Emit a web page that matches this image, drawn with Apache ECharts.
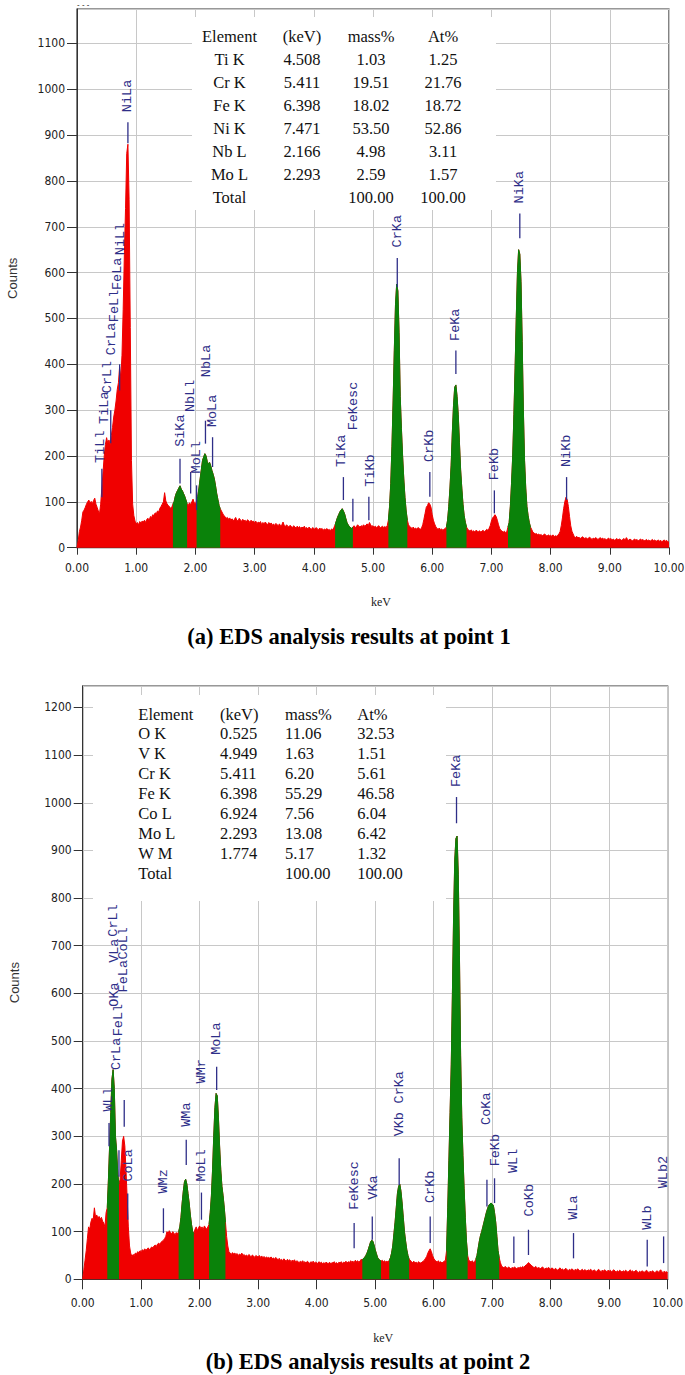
<!DOCTYPE html>
<html><head><meta charset="utf-8">
<script src="https://cdn.jsdelivr.net/npm/echarts@6/dist/echarts.min.js"></script>
<style>html,body{margin:0;padding:0;background:#fff}#c{width:685px;height:1375px}</style>
</head><body><div id="c"></div>
<script>
// ---------- DATA ----------
const STEP = 0.02; // keV per channel
// Spectrum (a), point 1 : counts per channel, 0.00 .. 10.00 keV
const counts1 = [
0,15,35,45,60,78,82,88,95,100,
104,97,101,96,103,108,95,88,80,74,
95,130,165,200,225,240,228,235,225,245,
262,285,300,320,345,360,395,370,420,520,
640,740,860,880,760,480,190,95,70,58,
52,55,50,57,54,58,56,60,55,62,
64,60,68,66,72,70,76,74,80,78,
86,90,95,100,120,102,96,92,90,86,
88,95,100,112,120,125,130,135,128,124,
118,112,104,96,92,98,94,100,106,98,
96,102,112,130,150,170,190,198,205,200,
188,182,186,178,168,160,150,135,118,105,
92,85,80,75,70,68,64,66,62,65,
60,63,58,62,66,60,58,64,61,57,
62,58,60,56,61,59,55,60,57,58,
55,58,52,56,54,57,50,55,52,56,
53,50,55,51,54,49,52,48,53,50,
48,52,47,50,56,49,46,50,47,45,
49,46,44,48,45,43,47,44,46,42,
45,43,47,42,44,41,45,42,40,44,
42,40,44,41,39,43,40,42,38,41,
39,42,38,40,37,41,39,44,50,58,
66,72,78,82,85,80,74,64,55,50,
46,44,42,45,48,44,46,50,47,45,
48,46,50,47,49,52,48,55,50,46,
48,45,47,44,46,48,43,45,47,44,
46,44,48,60,90,140,220,320,430,530,
575,560,470,330,260,200,150,110,80,60,
50,46,44,42,45,41,43,40,44,42,
40,43,50,62,75,88,92,98,95,88,
72,60,52,46,42,40,43,39,41,38,
40,42,45,60,90,130,180,250,310,350,
355,330,290,230,170,130,95,70,55,45,
40,38,36,39,35,37,34,38,36,35,
37,34,36,38,35,37,40,38,42,48,
58,65,68,72,68,60,50,42,38,36,
34,36,33,35,45,55,90,140,200,290,
390,500,600,650,640,580,450,300,190,130,
90,70,55,45,40,34,32,30,31,28,
30,27,29,26,28,30,27,25,28,26,
27,25,28,24,26,25,27,30,35,48,
65,85,100,110,105,90,68,48,36,30,
24,22,25,21,23,20,22,24,21,20,
22,19,21,23,20,18,21,19,22,20,
18,20,22,19,21,18,20,17,19,21,
18,20,17,19,16,18,20,17,19,18,
16,18,20,17,22,18,16,19,17,15,
17,19,16,18,15,17,19,16,18,15,
16,18,15,17,14,16,18,15,17,14,
15,17,14,16,13,15,17,14,16,13,
12];
// Spectrum (b), point 2
const counts2 = [
0,20,40,60,85,110,105,120,128,125,
150,130,135,128,132,126,130,122,118,110,
140,150,210,280,350,420,440,400,300,270,
220,200,210,250,290,300,280,230,170,110,
70,55,48,52,50,55,53,58,56,60,
58,62,60,64,61,63,66,62,65,68,
66,70,72,69,74,76,73,78,80,82,
85,90,100,96,102,98,95,100,96,94,
98,95,100,110,130,160,185,205,210,200,
180,160,135,115,100,96,105,110,102,108,
112,106,110,104,112,108,105,110,115,140,
175,230,300,360,390,385,340,280,230,195,
175,150,120,90,70,58,55,52,56,53,
55,52,54,50,53,51,55,50,52,49,
51,48,52,50,47,51,49,46,50,48,
47,50,46,49,45,48,44,47,45,46,
44,47,43,45,42,46,43,41,44,40,
42,39,43,40,38,42,39,41,37,40,
38,41,36,39,37,35,38,36,39,35,
37,34,38,36,33,37,35,38,34,36,
35,33,37,34,36,32,35,33,36,34,
33,36,32,35,34,37,33,35,32,36,
34,37,33,36,35,38,34,37,35,39,
36,38,35,40,37,39,36,38,42,40,
44,46,50,55,62,70,78,82,80,72,
62,54,46,42,40,38,40,37,39,36,
38,36,40,45,55,70,95,120,150,180,
195,200,185,160,130,100,80,62,50,42,
40,37,35,38,34,36,33,37,35,34,
36,38,40,44,48,55,60,64,58,50,
44,40,38,36,39,35,37,34,36,38,
40,60,150,250,350,450,600,760,880,925,
930,850,680,470,340,260,190,130,80,50,
40,38,36,39,35,37,42,50,65,80,
92,100,110,120,130,140,148,155,158,160,
158,155,140,120,90,60,45,35,28,26,
24,27,25,23,26,24,22,25,23,26,
24,22,25,23,26,24,27,25,28,30,
32,35,33,30,28,26,24,27,25,23,
25,22,24,26,23,21,24,22,25,23,
21,24,22,20,23,21,19,22,24,20,
22,19,21,23,20,18,21,19,22,20,
18,21,19,22,20,17,19,21,18,20,
19,17,20,18,21,19,17,20,18,16,
19,21,18,16,19,17,20,18,16,19,
17,19,16,18,20,17,15,18,16,19,
17,15,18,16,19,17,15,17,20,16,
18,15,17,19,16,14,17,15,18,16,
15,17,19,16,14,17,15,18,16,14,
16,18,15,17,20,16,14,17,15,16,
14];
// Identified peak windows (green), keV
const greenStart1 = [1.62, 2.02, 4.36, 5.26, 6.24, 7.28];
const greenEnd1   = [1.86, 2.42, 4.66, 5.58, 6.58, 7.66];
const greenStart2 = [0.42, 1.64, 2.16, 4.78, 5.24, 6.22, 6.72];
const greenEnd2   = [0.62, 1.90, 2.44, 5.10, 5.58, 6.58, 7.12];
// Peak labels (a)
const peakName1 = ['TiLl','TiLa','CrLl','CrLa','FeLl','FeLa','NiLl','NiLa','SiKa','NbLl','MoLl','NbLa','MoLa','TiKa','FeKesc','TiKb','CrKa','CrKb','FeKa','FeKb','NiKa','NiKb'];
const peakKeV1  = [0.40,0.47,0.51,0.59,0.64,0.69,0.74,0.86,1.74,1.91,2.02,2.19,2.29,4.47,4.67,4.95,5.41,5.96,6.40,7.06,7.48,8.27];
const peakBase1 = [185,270,337,420,492,562,638,950,220,296,162,372,263,176,256,133,655,187,451,147,751,176];
const markKeV1  = [0.42,0.57,0.72,0.86,1.74,1.92,2.02,2.17,2.29,4.50,4.66,4.93,5.41,5.96,6.40,7.05,7.48,8.27];
const markFrom1 = [110,228,343,882,140,118,82,227,176,104,57,60,568,111,379,75,675,104];
const markTo1   = [172,300,400,928,194,165,136,277,241,154,107,111,632,165,430,125,729,154];
// Peak labels (b)
const peakName2 = ['WLl','CrLa','FeLl','OKa','VLa','CrLl','FeLa','CoLl','CoLa','WMz','WMa','WMr','MoLl','MoLa','FeKesc','VKa','VKb','CrKa','CrKb','FeKa','CoKa','FeKb','WLl','CoKb','WLa','WLb','WLb2'];
const peakKeV2  = [0.44,0.58,0.61,0.55,0.55,0.52,0.70,0.70,0.78,1.38,1.78,2.03,2.03,2.29,4.64,4.97,5.42,5.42,5.94,6.39,6.91,7.05,7.37,7.63,8.39,9.65,9.92];
const peakBase2 = [352,439,510,572,664,719,602,671,205,180,320,411,205,471,146,167,300,369,160,1033,324,237,223,132,125,104,191];
const markKeV2  = [0.45,0.62,0.71,0.77,1.38,1.77,2.03,2.29,4.64,4.95,5.41,5.94,6.39,6.91,7.04,7.37,7.62,8.39,9.65,9.93];
const markFrom2 = [279,215,320,125,97,240,125,397,65,83,198,76,957,153,160,34,51,44,27,34];
const markTo2   = [328,271,376,180,149,293,182,446,118,132,254,132,1012,209,212,90,104,97,83,90];
// Quantification tables
const tableHead = ['Element','(keV)','mass%','At%'];
const elem1 = ['Ti K','Cr K','Fe K','Ni K','Nb L','Mo L','Total'];
const kev1  = ['4.508','5.411','6.398','7.471','2.166','2.293',''];
const mass1 = ['1.03','19.51','18.02','53.50','4.98','2.59','100.00'];
const at1   = ['1.25','21.76','18.72','52.86','3.11','1.57','100.00'];
const elem2 = ['O K','V K','Cr K','Fe K','Co L','Mo L','W M','Total'];
const kev2  = ['0.525','4.949','5.411','6.398','6.924','2.293','1.774',''];
const mass2 = ['11.06','1.63','6.20','55.29','7.56','13.08','5.17','100.00'];
const at2   = ['32.53','1.51','5.61','46.58','6.04','6.42','1.32','100.00'];
const captions = ['(a) EDS analysis results at point 1', '(b) EDS analysis results at point 2'];

// ---------- BUILD ----------
const RED = '#f00000', GREEN = '#0a820a', BLUE = '#2e2e88';
const kevAt = i => +(i * STEP).toFixed(2);
const fullPts = arr => arr.map((v, i) => [kevAt(i), v]);
const greenPts = (arr, s, e) => arr.map((v, i) => {
  const x = kevAt(i);
  const inside = s.some((a, k) => x >= a - 1e-9 && x <= e[k] + 1e-9);
  return [x, inside ? v : null];
});
const labelFont = '"Liberation Mono", "DejaVu Sans Mono", monospace';
const axisFont = '"Liberation Sans Narrow", "DejaVu Sans Condensed", "Liberation Sans", sans-serif';

function textSeries(gi, names, kev, base) {
  return {
    type: 'custom', xAxisIndex: gi, yAxisIndex: gi, z: 6, silent: true, clip: false,
    data: kev.map((x, i) => [x, base[i]]),
    renderItem(params, api) {
      const p = api.coord([api.value(0), api.value(1)]);
      return { type: 'text', x: p[0], y: p[1], rotation: Math.PI / 2,
        style: { text: names[params.dataIndex], fill: BLUE, fontSize: 13.5, fontFamily: labelFont,
                 align: 'left', verticalAlign: 'middle' } };
    }
  };
}
function markSeries(gi, kev, from, to) {
  return {
    type: 'custom', xAxisIndex: gi, yAxisIndex: gi, z: 5, silent: true, clip: false,
    data: kev.map((x, i) => [x, from[i], to[i]]),
    renderItem(params, api) {
      const a = api.coord([api.value(0), api.value(1)]);
      const b = api.coord([api.value(0), api.value(2)]);
      return { type: 'line', shape: { x1: a[0], y1: a[1], x2: b[0], y2: b[1] },
        style: { stroke: BLUE, lineWidth: 1.3 } };
    }
  };
}
function areaSeries(gi, data, color, z) {
  return { type: 'line', xAxisIndex: gi, yAxisIndex: gi, data, symbol: 'none', z,
    connectNulls: false, silent: true, animation: false,
    lineStyle: { color, width: 1 }, areaStyle: { color, opacity: 1 } };
}
function xAx(gi, tickLen, margin, gap) {
  return { gridIndex: gi, type: 'value', min: 0, max: 10, interval: 1,
    axisLine: { lineStyle: { color: '#333', width: 1 } },
    axisTick: { length: tickLen, lineStyle: { color: '#333' } },
    axisLabel: { formatter: v => v.toFixed(2), margin, fontSize: 12, fontFamily: axisFont, color: '#222' },
    splitLine: { show: true, lineStyle: { color: '#c8c8c8', width: 1 } },
    name: 'keV', nameLocation: 'middle', nameGap: gap,
    nameTextStyle: { fontFamily: '"Liberation Serif", serif', fontSize: 12, color: '#222', padding: [0, 0, 0, 16] } };
}
function yAx(gi, max, tickLen, margin, gap) {
  return { gridIndex: gi, type: 'value', min: 0, max, interval: 100,
    axisLine: { show: true, lineStyle: { color: '#333', width: 1 } },
    axisTick: { show: true, length: tickLen, lineStyle: { color: '#333' } },
    axisLabel: { formatter: v => String(v), showMaxLabel: false, margin, fontSize: 12, fontFamily: axisFont, color: '#222' },
    splitLine: { show: true, lineStyle: { color: '#c8c8c8', width: 1 } },
    name: 'Counts', nameLocation: 'middle', nameGap: gap, nameRotate: 90,
    nameTextStyle: { fontFamily: '"Liberation Sans", sans-serif', fontSize: 13, color: '#333' } };
}

const graphics = [];
// table (a)
graphics.push({ type: 'rect', z: 1, shape: { x: 192, y: 17, width: 304, height: 193 }, style: { fill: '#fff' } });
const colA = [229.5, 302, 371, 443];
const rowsA = [tableHead].concat(elem1.map((e, i) => [e, kev1[i], mass1[i], at1[i]]));
rowsA.forEach((row, r) => row.forEach((t, c) => {
  if (!t) return;
  graphics.push({ type: 'text', z: 3, x: colA[c], y: 36 + r * 23.1,
    style: { text: t, fill: '#111', fontSize: 16.5, fontFamily: '"Liberation Serif", serif', align: 'center', verticalAlign: 'middle' } });
}));
// table (b)
graphics.push({ type: 'rect', z: 1, shape: { x: 93, y: 695, width: 353, height: 206 }, style: { fill: '#fff' } });
const colB = [138.3, 220, 285, 357.3];
const rowsB = [tableHead].concat(elem2.map((e, i) => [e, kev2[i], mass2[i], at2[i]]));
rowsB.forEach((row, r) => row.forEach((t, c) => {
  if (!t) return;
  graphics.push({ type: 'text', z: 3, x: colB[c], y: 714 + r * 19.95,
    style: { text: t, fill: '#111', fontSize: 16.5, fontFamily: '"Liberation Serif", serif', align: 'left', verticalAlign: 'middle' } });
}));
// captions
graphics.push({ type: 'text', z: 3, x: 349, y: 636, style: { text: captions[0], fill: '#000', fontSize: 22.5, fontWeight: 'bold', fontFamily: '"Liberation Serif", serif', align: 'center', verticalAlign: 'middle' } });
graphics.push({ type: 'text', z: 3, x: 368, y: 1361, style: { text: captions[1], fill: '#000', fontSize: 22.5, fontWeight: 'bold', fontFamily: '"Liberation Serif", serif', align: 'center', verticalAlign: 'middle' } });
graphics.push({ type: 'text', z: 3, x: 77, y: 5, style: { text: '- - -', fill: '#333', fontSize: 8, fontFamily: axisFont, align: 'left', verticalAlign: 'middle' } });

const chart = echarts.init(document.getElementById('c'), null, { renderer: 'svg', width: 685, height: 1375 });
chart.setOption({
  animation: false,
  backgroundColor: '#fff',
  grid: [
    { left: 77, top: 9, width: 592, height: 538.7, show: true, borderColor: '#333', borderWidth: 1.2, backgroundColor: 'transparent', containLabel: false, outerBoundsMode: 'none' },
    { left: 82.7, top: 686, width: 585, height: 593.3, show: true, borderColor: '#333', borderWidth: 1.2, backgroundColor: 'transparent', containLabel: false, outerBoundsMode: 'none' }
  ],
  xAxis: [xAx(0, 7, 14, 48), xAx(1, 10, 18, 53)],
  yAxis: [yAx(0, 1175, 10, 12, 58), yAx(1, 1245, 9, 11, 62)],
  graphic: graphics,
  series: [
    areaSeries(0, fullPts(counts1), RED, 2),
    areaSeries(0, greenPts(counts1, greenStart1, greenEnd1), GREEN, 3),
    areaSeries(1, fullPts(counts2), RED, 2),
    areaSeries(1, greenPts(counts2, greenStart2, greenEnd2), GREEN, 3),
    markSeries(0, markKeV1, markFrom1, markTo1),
    textSeries(0, peakName1, peakKeV1, peakBase1),
    markSeries(1, markKeV2, markFrom2, markTo2),
    textSeries(1, peakName2, peakKeV2, peakBase2)
  ]
});
</script></body></html>
